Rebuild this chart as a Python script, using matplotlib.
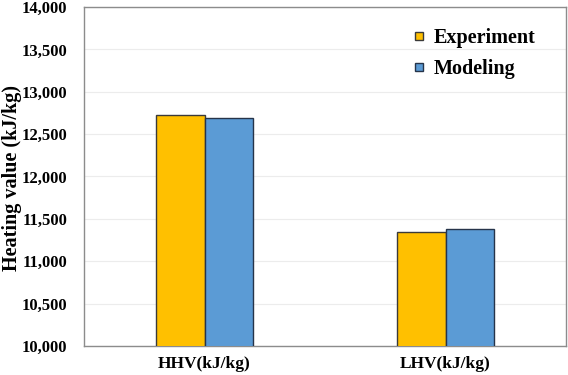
import numpy as np
import matplotlib.pyplot as plt
from matplotlib.ticker import FuncFormatter
from matplotlib.patches import Rectangle
from matplotlib.container import BarContainer
from matplotlib.legend_handler import HandlerPatch

categories = ['HHV(kJ/kg)', 'LHV(kJ/kg)']
experiment = [12720, 11350]
modeling = [12685, 11385]

plt.rcParams['font.family'] = ['Liberation Serif', 'DejaVu Serif']
plt.rcParams['font.weight'] = 'bold'


# small square legend markers, like the ones Excel draws
def square_patch(legend, orig_handle, xdescent, ydescent, width, height, fontsize):
    s = 5.5
    return Rectangle((width / 2 - xdescent - s / 2, height / 2 - ydescent - s / 2), s, s)


def from_first_bar(legend_handle, orig_handle):
    legend_handle.update_from(orig_handle.patches[0])


fig = plt.figure(figsize=(5.68, 3.75), dpi=100)
ax = fig.add_axes([84 / 568, 1 - 346 / 375, 482 / 568, 339 / 375])

x = np.arange(len(categories))
w = 0.2
ax.bar(x - w / 2, experiment, w, color='#FFC000', edgecolor='#3a3a3a', linewidth=1.0,
       label='Experiment', zorder=3)
ax.bar(x + w / 2, modeling, w, color='#5B9BD5', edgecolor='#26344a', linewidth=1.0,
       label='Modeling', zorder=3)

ax.set_xlim(-0.5, 1.5)
ax.set_ylim(10000, 14000)
ax.set_yticks(np.arange(10000, 14001, 500))
ax.yaxis.set_major_formatter(FuncFormatter(lambda v, p: f'{int(v):,}'))
ax.set_xticks(x)
ax.set_xticklabels(categories, fontsize=12.5, fontweight='bold')
ax.tick_params(axis='y', labelsize=12, length=0, pad=12)
ax.tick_params(axis='x', length=0, pad=7)
ax.grid(axis='y', color='#ececec', linewidth=0.8, zorder=0)
for s in ax.spines.values():
    s.set_color('#8c8c8c')
    s.set_linewidth(1.0)

fig.text(12 / 568, 1 - 178 / 375, 'Heating value (kJ/kg)', rotation=90,
         ha='center', va='center', fontsize=14.5, fontweight='bold')

leg = ax.legend(loc='upper right', bbox_to_anchor=(0.974, 0.991), frameon=False,
                fontsize=14.5, handlelength=0.45, handleheight=0.7, handletextpad=0.5,
                labelspacing=0.55,
                handler_map={BarContainer: HandlerPatch(patch_func=square_patch,
                                                        update_func=from_first_bar)})

fig.savefig('out.png', dpi=100)
